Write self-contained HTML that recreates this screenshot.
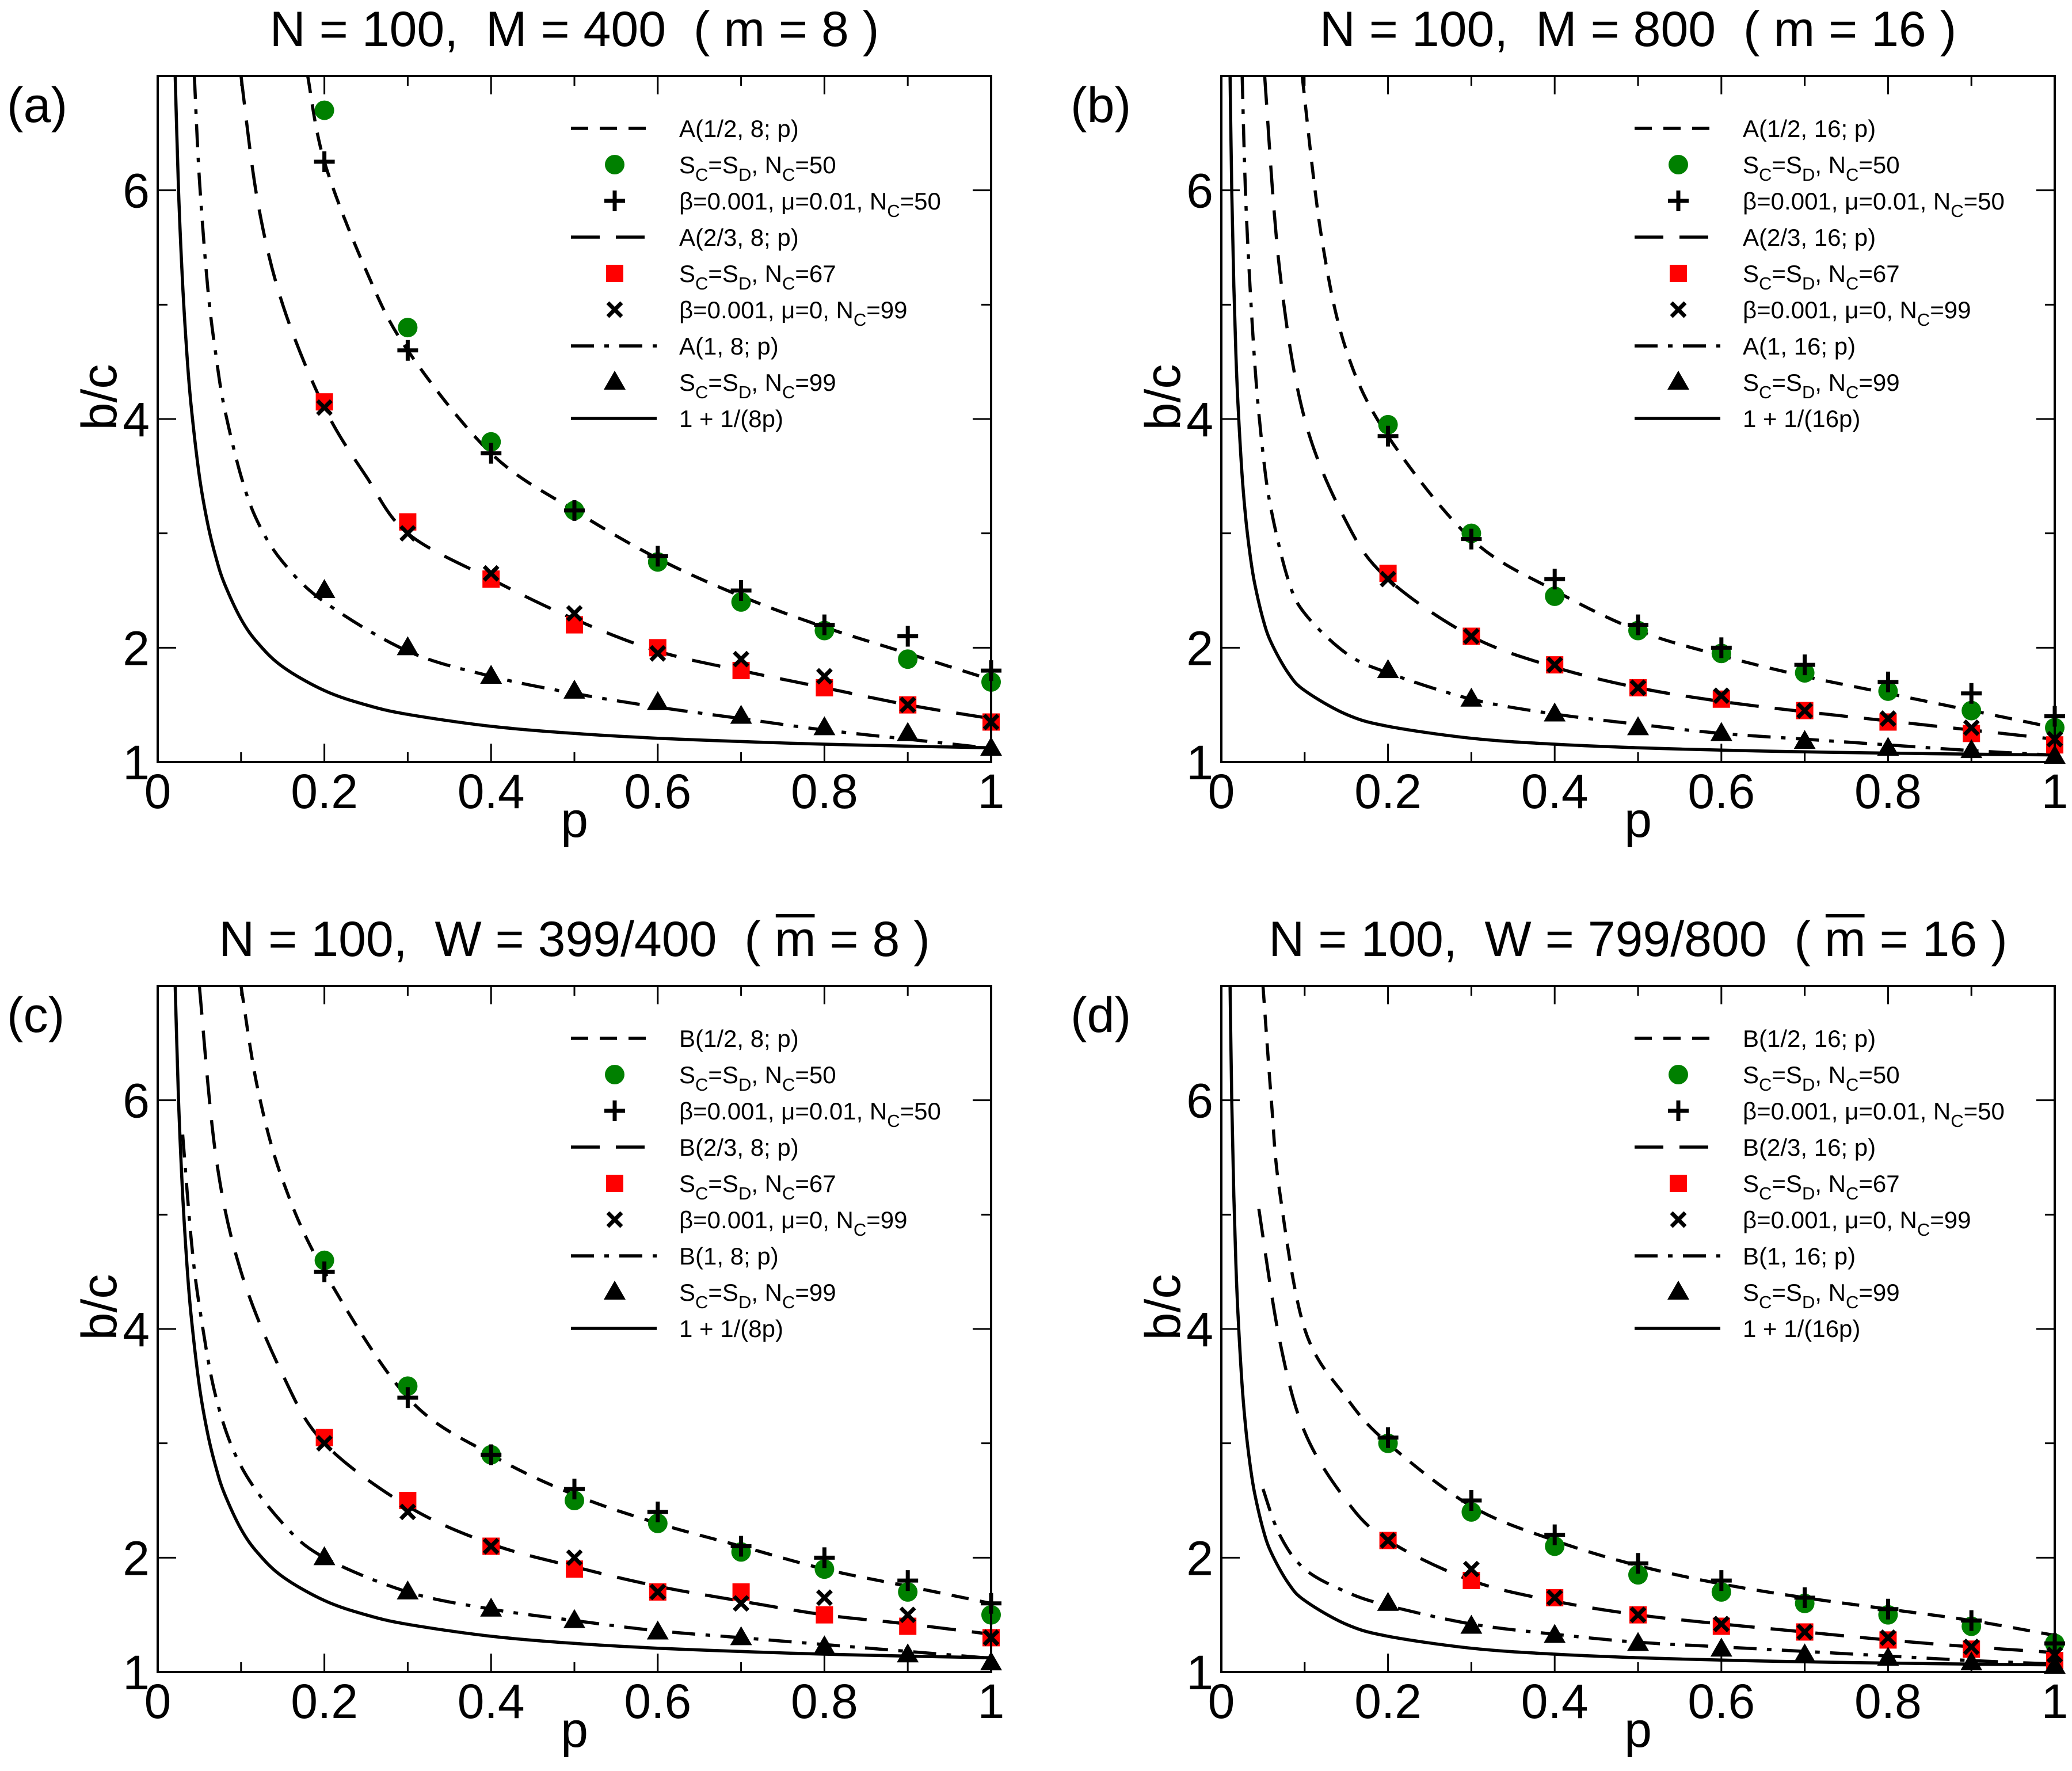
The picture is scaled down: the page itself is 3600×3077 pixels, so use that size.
<!DOCTYPE html>
<html><head><meta charset="utf-8">
<style>
html,body{margin:0;padding:0;background:#fff;}
svg{display:block;font-family:"Liberation Sans",sans-serif;}
text{white-space:pre;}
</style></head>
<body>
<svg id="fig" width="3600" height="3077" viewBox="0 0 3600 3077" xmlns="http://www.w3.org/2000/svg" xml:space="preserve"></svg>
<script>
// ---------- shared data ----------
const pData = [0.2,0.3,0.4,0.5,0.6,0.7,0.8,0.9,1.0];
const xTicks = [0,0.2,0.4,0.6,0.8,1];
const xTickLabels = ["0","0.2","0.4","0.6","0.8","1"];
const yTicks = [1,2,4,6];
const yTickLabels = ["1","2","4","6"];

// panel (a)
const aCircle = [6.7,4.8,3.8,3.2,2.75,2.4,2.15,1.9,1.7];
const aPlus   = [6.25,4.6,3.7,3.2,2.8,2.5,2.2,2.1,1.8];
const aSquare = [4.15,3.1,2.6,2.2,2.0,1.8,1.65,1.5,1.35];
const aCross  = [4.1,3.0,2.65,2.3,1.95,1.9,1.75,1.5,1.35];
const aTri    = [2.5,2.0,1.75,1.62,1.52,1.4,1.3,1.25,1.12];
const aHalfP  = [0.18,0.2,0.25,0.3,0.4,0.5,0.6,0.7,0.8,0.9,1.0];
const aHalfV  = [7.0,6.25,5.3,4.6,3.7,3.2,2.78,2.45,2.18,1.95,1.72];
const aTwoP   = [0.1,0.12,0.15,0.2,0.25,0.3,0.4,0.5,0.6,0.7,0.8,0.9,1.0];
const aTwoV   = [7.0,5.9,5.0,4.1,3.5,3.0,2.6,2.25,1.97,1.8,1.65,1.5,1.38];
const aOneP   = [0.044,0.05,0.06,0.07,0.08,0.1,0.12,0.15,0.2,0.3,0.4,0.5,0.6,0.7,0.8,0.9,1.0];
const aOneV   = [7.0,6.1,5.15,4.55,4.1,3.5,3.1,2.75,2.4,1.97,1.75,1.6,1.48,1.38,1.28,1.2,1.12];
const aSolP   = [0.02,0.025,0.03,0.035,0.04,0.05,0.06,0.07,0.08,0.1,0.12,0.15,0.2,0.25,0.3,0.4,0.5,0.6,0.7,0.8,0.9,1.0];
const aSolV   = [7.25,6.0,5.17,4.57,4.125,3.5,3.083,2.786,2.5625,2.25,2.042,1.833,1.625,1.5,1.417,1.3125,1.25,1.208,1.179,1.156,1.139,1.125];

// panel (b)
const bCircle = [3.95,3.0,2.45,2.15,1.95,1.78,1.62,1.45,1.3];
const bPlus   = [3.85,2.95,2.6,2.2,2.0,1.85,1.7,1.6,1.4];
const bSquare = [2.65,2.1,1.85,1.65,1.55,1.45,1.35,1.25,1.15];
const bCross  = [2.6,2.1,1.85,1.65,1.58,1.45,1.38,1.3,1.2];
const bTri    = [1.8,1.55,1.42,1.3,1.25,1.18,1.12,1.1,1.05];
const bHalfP  = [0.097,0.12,0.15,0.2,0.3,0.4,0.5,0.6,0.7,0.8,0.9,1.0];
const bHalfV  = [7.0,5.6,4.6,3.85,2.95,2.5,2.15,1.93,1.75,1.6,1.45,1.3];
const bTwoP   = [0.052,0.07,0.1,0.15,0.2,0.3,0.4,0.5,0.6,0.7,0.8,0.9,1.0];
const bTwoV   = [7.0,5.3,4.0,3.1,2.6,2.1,1.83,1.65,1.53,1.44,1.36,1.28,1.2];
const bOneP   = [0.025,0.03,0.04,0.05,0.06,0.08,0.1,0.15,0.2,0.3,0.4,0.5,0.6,0.7,0.8,0.9,1.0];
const bOneV   = [7.0,5.8,4.5,3.7,3.2,2.6,2.3,1.95,1.78,1.55,1.42,1.33,1.25,1.2,1.15,1.1,1.06];
const bSolP   = [0.01,0.0125,0.015,0.0175,0.02,0.025,0.03,0.035,0.04,0.05,0.06,0.08,0.1,0.15,0.2,0.3,0.4,0.5,0.6,0.7,0.8,0.9,1.0];
const bSolV   = [7.25,6.0,5.17,4.57,4.125,3.5,3.083,2.786,2.5625,2.25,2.042,1.781,1.625,1.417,1.3125,1.208,1.156,1.125,1.104,1.089,1.078,1.069,1.0625];

// panel (c)
const cCircle = [4.6,3.5,2.9,2.5,2.3,2.05,1.9,1.7,1.5];
const cPlus   = [4.5,3.4,2.9,2.6,2.4,2.1,2.0,1.8,1.6];
const cSquare = [3.05,2.5,2.1,1.9,1.7,1.7,1.5,1.4,1.3];
const cCross  = [3.0,2.4,2.1,2.0,1.7,1.6,1.65,1.5,1.3];
const cTri    = [2.0,1.7,1.55,1.45,1.35,1.3,1.22,1.15,1.08];
const cHalfP  = [0.1,0.12,0.15,0.2,0.3,0.4,0.5,0.6,0.7,0.8,0.9,1.0];
const cHalfV  = [7.0,6.1,5.3,4.5,3.4,2.9,2.55,2.3,2.1,1.9,1.75,1.6];
const cTwoP   = [0.05,0.07,0.1,0.15,0.2,0.3,0.4,0.5,0.6,0.7,0.8,0.9,1.0];
const cTwoV   = [7.0,5.5,4.5,3.6,3.0,2.45,2.12,1.92,1.75,1.62,1.5,1.42,1.33];
const cOneP   = [0.03,0.04,0.05,0.07,0.1,0.15,0.2,0.3,0.4,0.5,0.6,0.7,0.8,0.9,1.0];
const cOneV   = [5.7,4.8,4.2,3.4,2.8,2.3,2.0,1.7,1.55,1.45,1.36,1.3,1.24,1.18,1.12];
const cSolP   = aSolP;
const cSolV   = aSolV;

// panel (d)
const dCircle = [3.0,2.4,2.1,1.85,1.7,1.6,1.5,1.4,1.25];
const dPlus   = [3.05,2.5,2.2,1.95,1.8,1.65,1.55,1.45,1.25];
const dSquare = [2.15,1.8,1.65,1.5,1.4,1.35,1.28,1.2,1.1];
const dCross  = [2.15,1.9,1.65,1.5,1.42,1.35,1.3,1.22,1.15];
const dTri    = [1.6,1.4,1.32,1.25,1.2,1.15,1.12,1.08,1.05];
const dHalfP  = [0.05,0.06,0.07,0.1,0.15,0.2,0.3,0.4,0.5,0.6,0.7,0.8,0.9,1.0];
const dHalfV  = [7.0,6.0,5.2,4.0,3.4,3.0,2.45,2.15,1.93,1.77,1.65,1.55,1.45,1.32];
const dTwoP   = [0.045,0.07,0.1,0.15,0.2,0.3,0.4,0.5,0.6,0.7,0.8,0.9,1.0];
const dTwoV   = [5.05,3.9,3.1,2.5,2.15,1.8,1.62,1.5,1.42,1.35,1.28,1.22,1.17];
const dOneP   = [0.05,0.07,0.1,0.15,0.2,0.3,0.4,0.5,0.6,0.7,0.8,0.9,1.0];
const dOneV   = [2.6,2.2,1.9,1.7,1.58,1.42,1.33,1.26,1.22,1.18,1.14,1.1,1.07];
const dSolP   = bSolP;
const dSolV   = bSolV;

// ---------- drawing ----------
const NS = "http://www.w3.org/2000/svg";
const fig = document.getElementById("fig");
const W = 1448, H = 1192;
const DASH_SHORT = "30,20", DASH_LONG = "50,28", DASH_DOT = "40,18,8,18";

function mk(tag, parent, attrs){
  const e = document.createElementNS(NS, tag);
  for (const k in attrs) e.setAttribute(k, attrs[k]);
  parent.appendChild(e);
  return e;
}

function addRich(textEl, str){
  const parts = str.split(/(_[A-Z])/);
  let sub = false;
  parts.forEach(pt=>{
    if(!pt) return;
    const t = document.createElementNS(NS,"tspan");
    if(pt[0]==="_"){
      t.textContent = pt[1];
      t.setAttribute("dy","13");
      t.setAttribute("font-size","31");
      sub = true;
    } else {
      t.textContent = pt;
      if(sub){ t.setAttribute("dy","-13"); sub=false; }
    }
    textEl.appendChild(t);
  });
}

function marker(g, type, cx, cy, size){
  const s = size || 1;
  let e;
  if(type==="circle"){
    e = mk("circle", g, {cx:cx, cy:cy, r:17*s, fill:"#008000"});
  } else if(type==="square"){
    e = mk("rect", g, {x:cx-15*s, y:cy-15*s, width:30*s, height:30*s, fill:"#ff0000"});
  } else if(type==="plus"){
    e = mk("path", g, {d:`M${cx-18*s},${cy}H${cx+18*s}M${cx},${cy-18*s}V${cy+18*s}`, stroke:"#000", "stroke-width":7, fill:"none"});
  } else if(type==="cross"){
    e = mk("path", g, {d:`M${cx-12*s},${cy-12*s}L${cx+12*s},${cy+12*s}M${cx-12*s},${cy+12*s}L${cx+12*s},${cy-12*s}`, stroke:"#000", "stroke-width":7, fill:"none"});
  } else {
    e = mk("path", g, {d:`M${cx},${cy-20*s}L${cx+19*s},${cy+13*s}L${cx-19*s},${cy+13*s}Z`, fill:"#000"});
  }
  return e;
}

function smoothPath(pts){
  let d = `M${pts[0][0].toFixed(1)},${pts[0][1].toFixed(1)}`;
  for(let i=0;i<pts.length-1;i++){
    const p0=pts[Math.max(0,i-1)], p1=pts[i], p2=pts[i+1], p3=pts[Math.min(pts.length-1,i+2)];
    const c1=[p1[0]+(p2[0]-p0[0])/6, p1[1]+(p2[1]-p0[1])/6];
    const c2=[p2[0]-(p3[0]-p1[0])/6, p2[1]-(p3[1]-p1[1])/6];
    d += `C${c1[0].toFixed(1)},${c1[1].toFixed(1)} ${c2[0].toFixed(1)},${c2[1].toFixed(1)} ${p2[0].toFixed(1)},${p2[1].toFixed(1)}`;
  }
  return d;
}

function panel(cfg){
  const L=cfg.left, T=cfg.top;
  const xs = p => L + p*W;
  const ys = v => T + H - (v-1)/6*H;
  const g = mk("g", fig, {});
  
  

  const tt = mk("text", g, {x:L+W/2, y:T-52, "font-size":86, "text-anchor":"middle"});
  
  
  let barSpan = null;
  cfg.title.forEach(seg=>{
    const ts = document.createElementNS(NS,"tspan");
    ts.textContent = seg[0];
    tt.appendChild(ts);
    if(seg[1]) barSpan = ts;
  });
  if(barSpan){
    const b = barSpan.getBBox();
    const ob = mk("line", g, {x1:b.x+2, x2:b.x+b.width-2, y1:T-52-70, y2:T-52-70, stroke:"#000", "stroke-width":6});
    
    
  }
  const pl = mk("text", g, {x:L-262, y:T+80, "font-size":86});
  pl.textContent = "("+cfg.id+")";
  
  

  const cp = mk("clipPath", g, {id:"clip"+cfg.id});
  mk("rect", cp, {x:L, y:T, width:W, height:H});

  const cg = mk("g", g, {"clip-path":`url(#clip${cfg.id})`, fill:"none", stroke:"#000", "stroke-width":5.5});
  cfg.curves.forEach(c=>{
    const pts = c.p.map((p,i)=>[xs(p), ys(c.v[i])]);
    const path = mk("path", cg, {d:smoothPath(pts)});
    if(c.dash) path.setAttribute("stroke-dasharray", c.dash);
    
    
  });

  const mg = mk("g", g, {});
  cfg.series.forEach(s=>{
    s.v.forEach((v,i)=>{
      const m = marker(mg, s.type, xs(pData[i]), ys(v));
      
      
    });
  });

  const fr = mk("rect", g, {x:L, y:T, width:W, height:H, fill:"none", stroke:"#000", "stroke-width":4});
  
  

  let td = "";
  for(let k=0;k<=10;k++){
    const x = xs(k/10), len = k%2===0?32:17;
    td += `M${x},${T+H}v${-len}M${x},${T}v${len}`;
  }
  for(let v=1; v<=7; v++){
    const y = ys(v), len = (v%2===0)?32:17;
    td += `M${L},${y}h${len}M${L+W},${y}h${-len}`;
  }
  const tk = mk("path", g, {d:td, stroke:"#000", "stroke-width":3, fill:"none"});
  
  

  xTicks.forEach((t,i)=>{
    const e = mk("text", g, {x:xs(t), y:T+H+80, "font-size":84, "text-anchor":"middle"});
    e.textContent = xTickLabels[i];
    
    
  });
  yTicks.forEach((t,i)=>{
    const e = mk("text", g, {x:L-14, y:ys(t)+30, "font-size":84, "text-anchor":"end"});
    e.textContent = yTickLabels[i];
    
    
  });
  const xl = mk("text", g, {x:L+W/2, y:T+H+130, "font-size":86, "text-anchor":"middle"});
  xl.textContent = "p";
  
  
  const yl = mk("text", g, {x:0, y:0, "font-size":86, "text-anchor":"middle", transform:`translate(${L-72},${T+558}) rotate(-90)`});
  yl.textContent = "b/c";
  
  

  const lg = mk("g", g, {});
  
  
  cfg.legend.forEach((it,i)=>{
    const y = T + cfg.legTop + i*63;
    const row = mk("g", lg, {});
    
    
    if(it.line){
      const ln = mk("line", row, {x1:L+718, x2:L+867, y1:y, y2:y, stroke:"#000", "stroke-width":5.5});
      if(it.line!=="solid") ln.setAttribute("stroke-dasharray", it.line);
    } else {
      marker(row, it.mk, L+794, y);
    }
    const tx = mk("text", row, {x:L+906, y:y+15, "font-size":42});
    addRich(tx, it.text);
  });
}

function legendFor(fn, m){
  return [
    {line:DASH_SHORT, text:`${fn}(1/2, ${m}; p)`},
    {mk:"circle", text:"S_C=S_D, N_C=50"},
    {mk:"plus", text:"β=0.001, μ=0.01, N_C=50"},
    {line:DASH_LONG, text:`${fn}(2/3, ${m}; p)`},
    {mk:"square", text:"S_C=S_D, N_C=67"},
    {mk:"cross", text:"β=0.001, μ=0, N_C=99"},
    {line:DASH_DOT, text:`${fn}(1, ${m}; p)`},
    {mk:"tri", text:"S_C=S_D, N_C=99"},
    {line:"solid", text:`1 + 1/(${m}p)`}
  ];
}

function build(id,left,top,title,fn,m,P){
  panel({id, left, top, title, legTop: 91, legend: legendFor(fn,m),
    curves:[
      {p:P.halfP, v:P.halfV, dash:DASH_SHORT, name:fn+'-half-curve'},
      {p:P.twoP, v:P.twoV, dash:DASH_LONG, name:fn+'-two-thirds-curve'},
      {p:P.oneP, v:P.oneV, dash:DASH_DOT, name:fn+'-one-curve'},
      {p:P.solP, v:P.solV, dash:null, name:'limit-curve'}
    ],
    series:[
      {type:"circle", v:P.circle},
      {type:"plus", v:P.plus},
      {type:"square", v:P.square},
      {type:"cross", v:P.cross},
      {type:"tri", v:P.tri}
    ]});
}

build("a",274,132,[["N = 100,  M = 400  ( m = 8 )"]],"A",8,
  {halfP:aHalfP,halfV:aHalfV,twoP:aTwoP,twoV:aTwoV,oneP:aOneP,oneV:aOneV,solP:aSolP,solV:aSolV,
   circle:aCircle,plus:aPlus,square:aSquare,cross:aCross,tri:aTri});
build("b",2122,132,[["N = 100,  M = 800  ( m = 16 )"]],"A",16,
  {halfP:bHalfP,halfV:bHalfV,twoP:bTwoP,twoV:bTwoV,oneP:bOneP,oneV:bOneV,solP:bSolP,solV:bSolV,
   circle:bCircle,plus:bPlus,square:bSquare,cross:bCross,tri:bTri});
build("c",274,1713,[["N = 100,  W = 399/400  ( "],["m",true],[" = 8 )"]],"B",8,
  {halfP:cHalfP,halfV:cHalfV,twoP:cTwoP,twoV:cTwoV,oneP:cOneP,oneV:cOneV,solP:cSolP,solV:cSolV,
   circle:cCircle,plus:cPlus,square:cSquare,cross:cCross,tri:cTri});
build("d",2122,1713,[["N = 100,  W = 799/800  ( "],["m",true],[" = 16 )"]],"B",16,
  {halfP:dHalfP,halfV:dHalfV,twoP:dTwoP,twoV:dTwoV,oneP:dOneP,oneV:dOneV,solP:dSolP,solV:dSolV,
   circle:dCircle,plus:dPlus,square:dSquare,cross:dCross,tri:dTri});
</script>
</body></html>
